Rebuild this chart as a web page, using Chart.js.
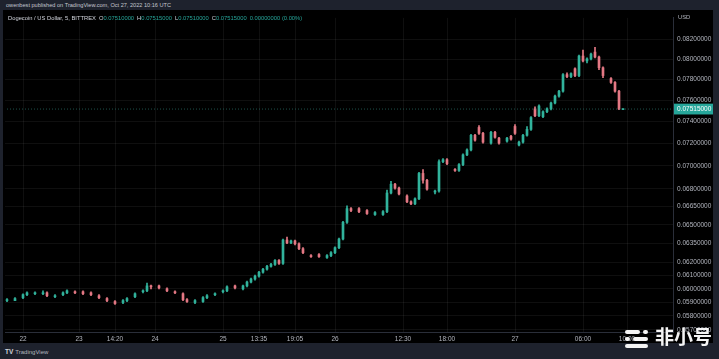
<!DOCTYPE html>
<html><head><meta charset="utf-8">
<script src="https://cdn.jsdelivr.net/npm/chart.js@4.4.0/dist/chart.umd.min.js"></script>
<style>
html,body{margin:0;padding:0;width:719px;height:359px;overflow:hidden;background:#1e222d;font-family:"Liberation Sans",Arial,sans-serif}
#wrap{position:absolute;left:3px;top:10px;width:710px;height:333px;background:#000}
canvas{display:block}
#hdr{position:absolute;left:6px;top:2px;font-size:5.6px;line-height:7px;color:#c3c6ce;white-space:nowrap}
#legend{position:absolute;left:8px;top:15px;font-size:5.8px;line-height:7px;color:#d1d4dc;white-space:nowrap}
#legend .v{color:#26a69a;font-weight:normal}
#legend span{margin-right:3px}
#usd{position:absolute;left:678px;top:14px;font-size:5.8px;line-height:7px;color:#b2b5be}
#tv{position:absolute;left:5px;top:348px;font-size:6px;line-height:8px;color:#b2b5be;white-space:nowrap}
#tv b{font-size:6.5px;margin-right:2px;color:#d1d4dc}
#wm{position:absolute;left:625px;top:327px;height:22px}
#wm .logo{position:absolute;left:0;top:3px;width:26px;height:18px}
#wm .logo i{position:absolute;height:4px;border-radius:2px;background:#f4f4f4}
#wm span{position:absolute;left:30px;top:-3px;font-family:"Noto Sans CJK SC",sans-serif;font-weight:bold;font-size:19px;line-height:24px;color:#f4f4f4;white-space:nowrap}
</style></head>
<body>
<div id="wrap"><canvas id="c" width="710" height="333"></canvas></div>
<div id="hdr">owenbest published on TradingView.com, Oct 27, 2022 10:16 UTC</div>
<div id="legend"></div>
<div id="usd">USD</div>
<div id="tv"><b>TV</b>TradingView</div>
<div id="wm"><div class="logo">
<i style="left:0;top:0;width:15px"></i><i style="left:18px;top:0;width:5px"></i>
<i style="left:0;top:7px;width:5px"></i><i style="left:8px;top:7px;width:15px"></i>
<i style="left:0;top:14px;width:23px"></i></div><span>非小号</span></div>
<script>
const symbolName = 'Dogecoin / US Dollar, 5, BITTREX';
const NSLOTS = 167;
const xTickText = ['22','23','14:20','24','25','13:35','19:05','26','12:30','18:00','27','06:00','10:00'];
const xTickBar  = [4,18,27,37,54,63,72,82,99,110,127,144,155];
const yTickValues = [0.082,0.080,0.078,0.076,0.074,0.072,0.070,0.068,0.0665,0.065,0.0635,0.062,0.061,0.060,0.059,0.058,0.057];
const yMin = 0.05684, yMax = 0.08424;

// 5-minute bars (null = no trades in that slot)
const opens = [
.05912,null,.05912,null,.05934,.05956,null,.05963,null,.05963,
.05970,null,.05941,null,.05956,.05970,null,.05978,null,.05978,
null,.05970,null,.05948,null,.05927,null,.05905,null,.05898,
.05912,null,.05941,null,.05978,.05985,.06022,null,.06022,null,
.06000,null,.05978,null,.05963,.05919,null,.05898,null,.05905,
.05934,null,.05956,null,.05978,.05985,null,.06022,null,.06000,
.06022,.06051,.06074,.06096,.06126,.06149,.06171,.06186,.06217,.06194,
.06378,.06355,.06371,.06348,.06309,null,.06255,null,.06263,null,
.06240,.06255,.06278,.06317,.06386,.06521,.06634,null,.06634,null,
.06618,null,.06585,null,.06585,.06609,.06765,.06840,.06807,null,
.06740,.06691,.06674,.06716,.06933,.06874,null,.06773,.06782,.07036,
.07053,null,.06967,.06959,.07010,.07096,.07140,.07272,.07344,.07290,
null,.07201,.07299,.07246,null,.07219,.07263,.07353,.07184,.07210,
.07272,.07326,.07517,.07453,.07444,.07490,.07517,.07572,.07638,.07685,
.07846,.07827,.07904,.07837,.08031,.07982,.08002,.08071,.08021,.07914,
null,.07808,.07770,.07685,.07510];
const highs = [
.05927,null,.05934,null,.05963,.05978,null,.05978,null,.05985,
.05978,null,.05956,null,.05978,.05992,null,.05985,null,.05985,
null,.05978,null,.05956,null,.05934,null,.05912,null,.05919,
.05934,null,.05970,null,.05992,.06044,.06029,null,.06029,null,
.06007,null,.05985,null,.05970,.05927,null,.05919,null,.05941,
.05956,null,.05970,null,.05992,.06022,null,.06029,null,.06029,
.06059,.06081,.06104,.06133,.06156,.06179,.06194,.06224,.06224,.06386,
.06402,.06378,.06378,.06355,.06317,null,.06263,null,.06270,null,
.06263,.06286,.06324,.06394,.06529,.06658,.06642,null,.06642,null,
.06626,null,.06609,null,.06618,.06790,.06865,.06848,.06815,null,
.06749,.06699,.06724,.06942,.06967,.06882,null,.06790,.07053,.07062,
.07062,null,.06976,.07018,.07105,.07149,.07281,.07281,.07362,.07299,
null,.07308,.07308,.07254,null,.07254,.07272,.07371,.07219,.07281,
.07353,.07444,.07535,.07554,.07499,.07526,.07582,.07647,.07694,.07856,
.07865,.07865,.07914,.08041,.08090,.08012,.08061,.08120,.08031,.07923,
null,.07817,.07779,.07694,.07515];
const lows = [
.05905,null,.05912,null,.05927,.05948,null,.05956,null,.05956,
.05941,null,.05934,null,.05948,.05963,null,.05963,null,.05956,
null,.05948,null,.05927,null,.05905,null,.05883,null,.05890,
.05905,null,.05934,null,.05970,.05978,.06000,null,.06000,null,
.05978,null,.05963,null,.05912,.05898,null,.05890,null,.05898,
.05927,null,.05948,null,.05970,.05978,null,.06000,null,.05992,
.06015,.06044,.06066,.06089,.06119,.06141,.06164,.06179,.06186,.06186,
.06348,.06348,.06340,.06301,.06270,null,.06240,null,.06240,null,
.06232,.06247,.06270,.06309,.06378,.06513,.06609,null,.06601,null,
.06585,null,.06577,null,.06577,.06601,.06757,.06798,.06749,null,
.06683,.06666,.06666,.06708,.06848,.06790,null,.06757,.06773,.07027,
.07010,null,.06950,.06950,.07001,.07088,.07131,.07219,.07281,.07201,
null,.07192,.07246,.07192,null,.07210,.07228,.07281,.07175,.07201,
.07263,.07317,.07444,.07444,.07435,.07480,.07508,.07563,.07628,.07675,
.07817,.07817,.07827,.07827,.07972,.07963,.07992,.08012,.07894,.07817,
null,.07760,.07675,.07510,.07510];
const closes = [
.05919,null,.05927,null,.05956,.05970,null,.05970,null,.05970,
.05948,null,.05948,null,.05970,.05985,null,.05970,null,.05963,
null,.05956,null,.05934,null,.05912,null,.05890,null,.05912,
.05927,null,.05963,null,.05985,.06022,.06015,null,.06007,null,
.05985,null,.05970,null,.05919,.05905,null,.05912,null,.05934,
.05948,null,.05963,null,.05985,.06015,null,.06007,null,.06022,
.06051,.06074,.06096,.06126,.06149,.06171,.06186,.06217,.06194,.06378,
.06355,.06371,.06348,.06309,.06278,null,.06247,null,.06247,null,
.06255,.06278,.06317,.06386,.06521,.06634,.06618,null,.06609,null,
.06593,null,.06601,null,.06609,.06765,.06840,.06807,.06757,null,
.06691,.06674,.06716,.06933,.06874,.06798,null,.06782,.07036,.07053,
.07018,null,.06959,.07010,.07096,.07140,.07272,.07228,.07290,.07210,
null,.07299,.07254,.07201,null,.07246,.07237,.07290,.07210,.07272,
.07326,.07435,.07453,.07544,.07490,.07517,.07572,.07638,.07685,.07846,
.07827,.07856,.07837,.08031,.07982,.08002,.08051,.08021,.07914,.07837,
null,.07770,.07685,.07515,.07515];

const last = opens.length - 1;
const lastClose = closes[last];
const prevClose = closes[last - 1];
const chg = lastClose - prevClose;

document.getElementById('legend').innerHTML =
  '<span>' + symbolName + '</span>' +
  '<span>O<b class="v">' + opens[last].toFixed(8) + '</b></span>' +
  '<span>H<b class="v">' + highs[last].toFixed(8) + '</b></span>' +
  '<span>L<b class="v">' + lows[last].toFixed(8) + '</b></span>' +
  '<span>C<b class="v">' + lastClose.toFixed(8) + '</b></span>' +
  '<span class="v">' + Math.abs(chg).toFixed(8) + ' (' + (Math.abs(chg) / prevClose * 100).toFixed(2) + '%)</span>';

const labels = Array.from({length: NSLOTS}, (_, i) => {
  const k = xTickBar.indexOf(i);
  return k >= 0 ? xTickText[k] : '';
});

const UP = '#31b39c', DOWN = '#e47884';
const colors = opens.map((o, i) => (o !== null && closes[i] < o) ? DOWN : UP);

Chart.defaults.font.family = '"Liberation Sans", Arial, sans-serif';
const GRID = 'rgba(255,255,255,0.06)';

new Chart(document.getElementById('c'), {
  type: 'bar',
  data: {
    labels,
    datasets: [
      {label: 'wick', data: lows.map((l, i) => l === null ? null : [l, highs[i]]), backgroundColor: colors,
       barThickness: 1, grouped: false, order: 2},
      {label: 'body', data: opens.map((o, i) => o === null ? null : [o, closes[i]]), backgroundColor: colors,
       barThickness: 2, minBarLength: 1, grouped: false, order: 1},
      {type: 'line', label: 'last', data: labels.map(() => lastClose),
       borderColor: 'rgba(60,160,150,0.5)', borderWidth: 1, borderDash: [1, 2],
       pointRadius: 0, order: 0}
    ]
  },
  options: {
    responsive: false, animation: false,
    layout: {padding: {left: 2, top: 1, right: 0, bottom: 0}},
    plugins: {legend: {display: false}, tooltip: {enabled: false}},
    scales: {
      x: {
        type: 'category', offset: true,
        grid: {offset: false, drawTicks: false,
               color: ctx => (labels[ctx.index] ? GRID : 'rgba(0,0,0,0)')},
        border: {color: '#2a2e39'},
        ticks: {autoSkip: false, maxRotation: 0, minRotation: 0, color: '#b2b5be',
                font: {size: 6.5}, padding: 3},
        afterFit: s => { s.height = 11; }
      },
      y: {
        type: 'logarithmic', position: 'right', min: yMin, max: yMax,
        afterBuildTicks: s => { s.ticks = yTickValues.concat([lastClose]).map(v => ({value: v})); },
        grid: {drawTicks: false,
               color: ctx => (ctx.tick && ctx.tick.value === lastClose ? 'rgba(0,0,0,0)' : GRID)},
        border: {color: '#2a2e39'},
        ticks: {
          callback: v => Number(v).toFixed(8),
          color: ctx => (ctx.tick && ctx.tick.value === lastClose ? '#ffffff' : '#b2b5be'),
          showLabelBackdrop: ctx => !!(ctx.tick && ctx.tick.value === lastClose),
          backdropColor: '#26a69a',
          backdropPadding: {x: 3, y: 1.5},
          font: {size: 6.5}, padding: 4, autoSkip: false
        },
        afterFit: s => { s.width = 40; }
      }
    }
  }
});
</script>
</body></html>
